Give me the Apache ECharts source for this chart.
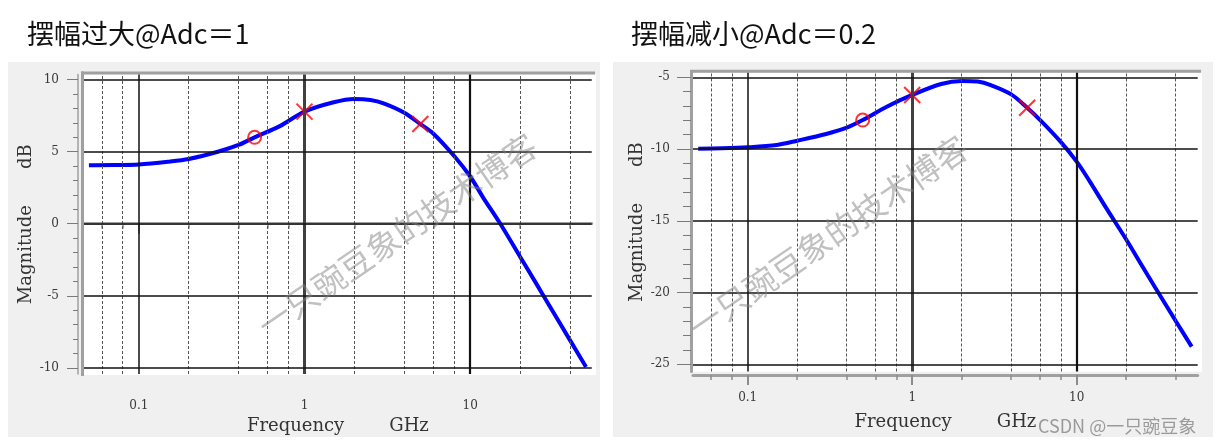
<!DOCTYPE html>
<html><head><meta charset="utf-8">
<script src="https://cdn.jsdelivr.net/npm/echarts@6/dist/echarts.min.js"></script>
<style>html,body{margin:0;padding:0;background:#fff}#c{width:1224px;height:445px}</style>
</head><body><div id="c"></div>
<script>
// ---- data ----
const freqGHz   = [0.05,0.07,0.1,0.15,0.2,0.3,0.4,0.5,0.7,1,1.5,2,2.5,3,4,5,6,8,10,12,15,20,25,30,40,50];
const magAdc1   = [4.06,4.07,4.12,4.31,4.5,5.0,5.47,6.0,6.74,7.78,8.43,8.66,8.59,8.36,7.71,6.92,6.25,4.7,3.28,1.8,0.1,-2.29,-4.14,-5.67,-8.08,-9.95];
const magAdc02  = [-9.98,-9.95,-9.88,-9.72,-9.42,-8.95,-8.51,-7.98,-7.05,-6.23,-5.47,-5.26,-5.3,-5.54,-6.19,-7.12,-7.98,-9.5,-10.88,-12.25,-14.05,-16.3,-18.15,-19.65,-21.98,-23.77];
const circleFreq = [0.5];
const crossFreq  = [1, 5];
const circleAdc1 = [6.0];
const crossAdc1  = [7.78, 6.92];
const circleAdc02 = [-7.98];
const crossAdc02  = [-6.23, -7.12];
const decadeTicks = [0.1, 1, 10];
const minorFreqTicks = [0.06,0.08,0.2,0.4,0.6,0.8,2,4,6,8,20,40];
const yMajorAdc1 = [-10,-5,0,5,10];
const yMinorAdc1 = [-10,-9,-8,-7,-6,-5,-4,-3,-2,-1,0,1,2,3,4,5,6,7,8,9,10];
const yMajorAdc02 = [-25,-20,-15,-10,-5];
const yMinorAdc02 = [-25,-24,-23,-22,-21,-20,-19,-18,-17,-16,-15,-14,-13,-12,-11,-10,-9,-8,-7,-6,-5];
const titles = ['摆幅过大@Adc＝1', '摆幅减小@Adc＝0.2'];
const watermark = '一只豌豆象的技术博客';
const footer = 'CSDN @一只豌豆象';

// ---- layout ----
const serif = '"DejaVu Serif", serif';
const panels = [
  {grid:{left:84, top:74.5, width:507.7, height:299.5}, xr:[0.0467,54.1], yr:[-10.43,10.36],
   yOff:6, yTickMaj:11, yTickMin:5, yLabMargin:19, xOff:6, xLabMargin:20, nameGap:37,
   mag:magAdc1, circ:circleAdc1, cross:crossAdc1, yMaj:yMajorAdc1, yMin:yMinorAdc1},
  {grid:{left:693, top:72.7, width:504.7, height:298.8}, xr:[0.0465,54.4], yr:[-25.50,-4.68],
   yOff:2, yTickMaj:14, yTickMin:8, yLabMargin:21, xOff:3.5, xLabMargin:17, nameGap:38,
   mag:magAdc02, circ:circleAdc02, cross:crossAdc02, yMaj:yMajorAdc02, yMin:yMinorAdc02}
];

const grids = [], xAxes = [], yAxes = [], series = [];
panels.forEach((p, i) => {
  grids.push(Object.assign({containLabel:false}, p.grid));
  const xBase = {type:'log', logBase:10, gridIndex:i, min:p.xr[0], max:p.xr[1], position:'bottom',
    offset:p.xOff, splitLine:{show:false}, minorTick:{show:false}, minorSplitLine:{show:false}};
  xAxes.push(Object.assign({}, xBase, {
    axisLine:{show:true, lineStyle:{color:'#a0a0a0', width:3}},
    axisTick:{show:true, customValues:decadeTicks, length:10, lineStyle:{color:'#8c8c8c', width:2}},
    axisLabel:{show:true, customValues:decadeTicks, margin:p.xLabMargin, fontFamily:serif, fontSize:12, color:'#3a3a3a',
      formatter:v=>String(+v.toPrecision(3))},
    name:'Frequency\u2003\u2003\u2002GHz', nameLocation:'middle', nameGap:p.nameGap,
    nameTextStyle:{fontFamily:serif, fontSize:18, color:'#333'}
  }));
  xAxes.push(Object.assign({}, xBase, {
    axisLine:{show:false},
    axisTick:{show:true, customValues:minorFreqTicks, length:5, lineStyle:{color:'#8c8c8c', width:1.5}},
    axisLabel:{show:false}
  }));
  const yBase = {type:'value', gridIndex:i, min:p.yr[0], max:p.yr[1], position:'left', offset:p.yOff,
    splitLine:{show:false}};
  yAxes.push(Object.assign({}, yBase, {
    axisLine:{show:true, lineStyle:{color:'#a0a0a0', width: i===0 ? 1.5 : 3}},
    axisTick:{show:true, customValues:p.yMaj, length:p.yTickMaj, lineStyle:{color:'#7a7a7a', width:1}},
    axisLabel:{show:true, customValues:p.yMaj, margin:p.yLabMargin, fontFamily:serif, fontSize:12, color:'#3a3a3a'},
    name:'Magnitude\u2003\u2003dB', nameLocation:'middle', nameGap: i===0 ? 41 : 44,
    nameTextStyle:{fontFamily:serif, fontSize:18, color:'#333'}
  }));
  yAxes.push(Object.assign({}, yBase, {
    axisLine:{show:false},
    axisTick:{show:true, customValues:p.yMin, length:p.yTickMin, lineStyle:{color:'#7a7a7a', width:1}},
    axisLabel:{show:false}
  }));
  const xi = i*2, yi = i*2;
  const gridLines = [];
  decadeTicks.forEach(f => gridLines.push({xAxis:f, lineStyle:{type:'solid',
      color: f===1 ? '#404040' : '#111', width: f===1 ? 3 : (f===10 ? 2.2 : 1.5)}}));
  minorFreqTicks.forEach(f => gridLines.push({xAxis:f, lineStyle:{type:[3,2], color:'#555', width:1}}));
  p.yMaj.forEach(v => gridLines.push({yAxis:v, lineStyle:{type:'solid', color:'#111', width:1.5}}));
  series.push({type:'line', xAxisIndex:xi, yAxisIndex:yi, data:[], z:1, silent:true,
    markLine:{silent:true, symbol:['none','none'], label:{show:false}, animation:false, data:gridLines}});
  series.push({type:'line', xAxisIndex:xi, yAxisIndex:yi, z:3, showSymbol:false, smooth:0.3,
    lineStyle:{color:'#0000ff', width:4}, data:freqGHz.map((f,k)=>[f, p.mag[k]])});
  series.push({type:'scatter', xAxisIndex:xi, yAxisIndex:yi, z:4, symbol:'circle', symbolSize:13,
    itemStyle:{color:'transparent', borderColor:'#ff0000', borderWidth:2},
    data:circleFreq.map((f,k)=>[f, p.circ[k]])});
  series.push({type:'scatter', xAxisIndex:xi, yAxisIndex:yi, z:4, symbol:'path://M0,0L10,10M10,0L0,10', symbolSize:16,
    itemStyle:{color:'transparent', borderColor:'#ff0000', borderWidth:2},
    data:crossFreq.map((f,k)=>[f, p.cross[k]])});
});

const chart = echarts.init(document.getElementById('c'), null, {renderer:'canvas'});
chart.setOption({
  animation:false,
  backgroundColor:'#ffffff',
  title: [
    {text:titles[0], left:22, top:15, textStyle:{fontFamily:'"Noto Sans CJK SC"', fontSize:27, fontWeight:'normal', color:'#111'}},
    {text:titles[1], left:626, top:15, textStyle:{fontFamily:'"Noto Sans CJK SC"', fontSize:27, fontWeight:'normal', color:'#111'}}
  ],
  grid: grids, xAxis: xAxes, yAxis: yAxes, series: series,
  graphic: [
    {type:'rect', z:-10, shape:{x:8, y:62, width:592, height:375}, style:{fill:'#f0f0f0'}},
    {type:'rect', z:-10, shape:{x:613, y:62, width:600, height:375}, style:{fill:'#f0f0f0'}},
    {type:'rect', z:-9, shape:{x:84, y:74.5, width:512, height:300.5}, style:{fill:'#ffffff'}},
    {type:'rect', z:-9, shape:{x:693, y:72.7, width:509, height:299}, style:{fill:'#ffffff'}},
    {type:'line', z:-8, shape:{x1:81, y1:73, x2:595, y2:73}, style:{stroke:'#a0a0a0', lineWidth:3}},
    {type:'line', z:-8, shape:{x1:82.5, y1:71.5, x2:82.5, y2:376}, style:{stroke:'#a0a0a0', lineWidth:3}},
    {type:'line', z:-8, shape:{x1:690, y1:71.2, x2:1201, y2:71.2}, style:{stroke:'#a0a0a0', lineWidth:3}},
    {type:'text', z:10, x:397, y:235, rotation:0.6, silent:true,
      style:{text:watermark, font:'33px "Noto Sans CJK SC"', fill:'rgba(130,130,130,0.5)', align:'center', verticalAlign:'middle'}},
    {type:'text', z:10, x:828, y:237, rotation:0.6, silent:true,
      style:{text:watermark, font:'33px "Noto Sans CJK SC"', fill:'rgba(130,130,130,0.5)', align:'center', verticalAlign:'middle'}},
    {type:'text', z:10, x:1038, y:426, silent:true,
      style:{text:footer, font:'18px "Noto Sans CJK SC"', fill:'#9a9a9a', align:'left', verticalAlign:'middle'}}
  ]
});
</script>
</body></html>
